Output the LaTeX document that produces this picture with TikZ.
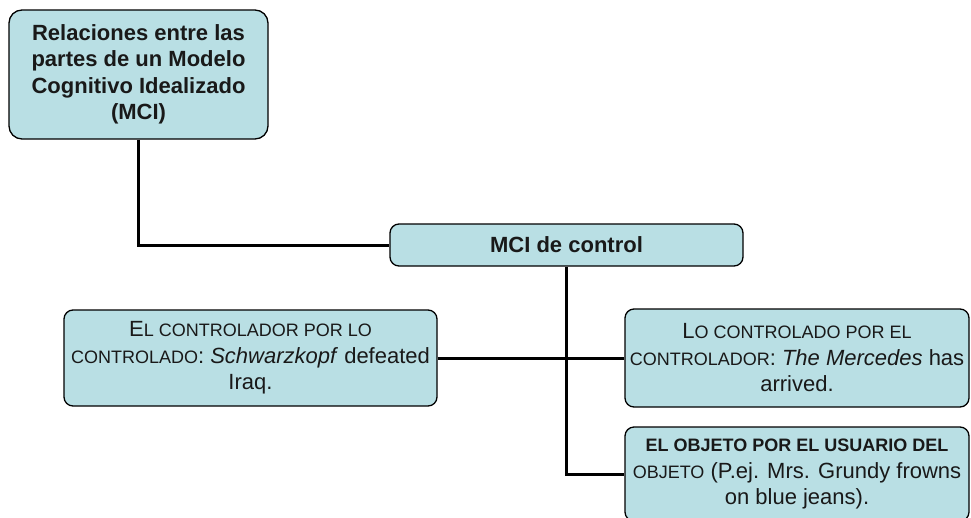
\documentclass[tikz,border=0pt]{standalone}
\usepackage{fontspec}
\setmainfont{Liberation Sans}
\definecolor{boxfill}{RGB}{185,223,228}
\newcommand{\smc}[1]{{\fontsize{18}{26}\selectfont #1}}
\tikzset{
  box/.style={draw=black, line width=1.3pt, fill=boxfill, rounded corners=9pt,
    align=center, inner sep=0pt, text=black!90,
    font=\fontsize{22}{26.5}\selectfont},
  link/.style={line width=3pt, line join=miter}
}
\begin{document}
\begin{tikzpicture}[x=1pt, y=-1pt]
  \useasboundingbox (0,0) rectangle (971,517);

  \node[box, rounded corners=13pt, minimum width=259pt, minimum height=129pt,
        font=\fontsize{22}{26.5}\selectfont\bfseries] (title) at (138.5,74.5)
    {Relaciones entre las\\partes de un Modelo\\Cognitivo Idealizado\\(MCI)};

  \node[box, minimum width=353pt, minimum height=42pt,
        font=\fontsize{22}{26.5}\selectfont\bfseries] (mci) at (566.5,245)
    {MCI de control};

  \node[box, minimum width=373pt, minimum height=96pt] (ctrl) at (250.5,358)
    {E\smc{L CONTROLADOR POR LO}\\\smc{CONTROLADO}: \textit{Schwarzkopf} defeated\\Iraq.};

  \node[box, minimum width=344pt, minimum height=98pt] (ctrld) at (797,358)
    {L\smc{O CONTROLADO POR EL}\\\smc{CONTROLADOR}: \textit{The Mercedes} has\\arrived.};

  \node[box, minimum width=344pt, minimum height=94pt] (obj) at (797,474)
    {\textbf{\smc{EL OBJETO POR EL USUARIO DEL}}\\\smc{OBJETO} (P.ej. Mrs. Grundy frowns\\on blue jeans).};

  % connectors
  \draw[link] (title.south) |- (mci.west);
  \draw[link] (mci.south) -- (mci.south |- obj.west) -- (obj.west);
  \draw[link] (ctrl.east) -- (ctrld.west);
\end{tikzpicture}
\end{document}
